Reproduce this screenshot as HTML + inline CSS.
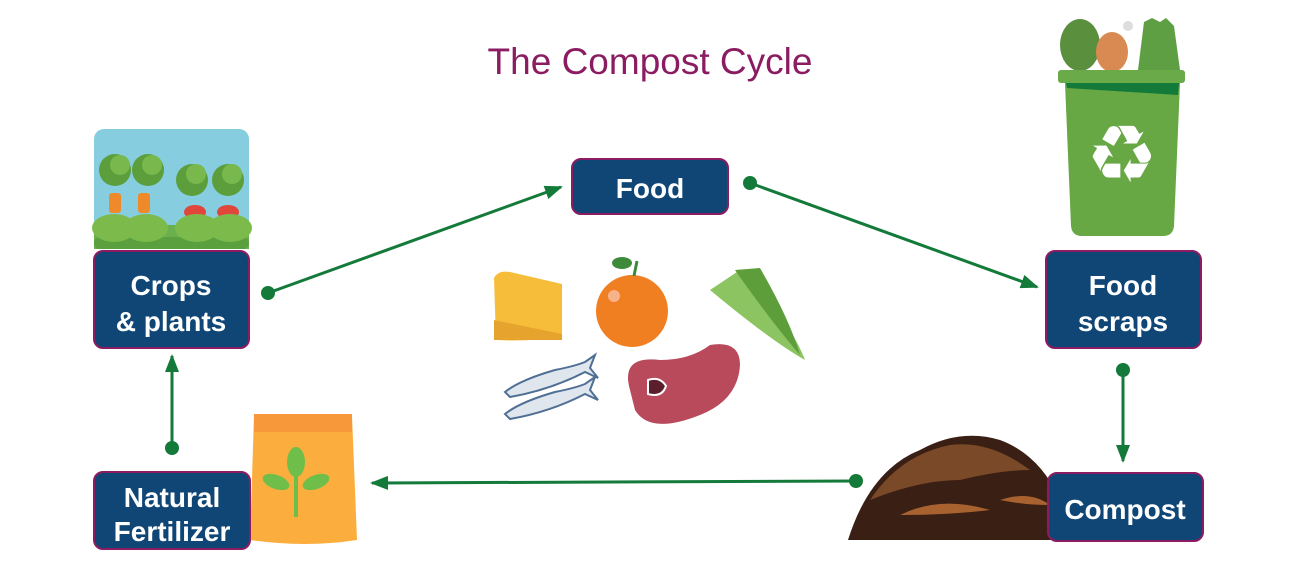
<!DOCTYPE html>
<html><head><meta charset="utf-8"><style>
html,body{margin:0;padding:0;background:#fff;width:1300px;height:581px;overflow:hidden}
svg{display:block}
.t{font-family:"Liberation Sans",sans-serif;font-weight:bold;fill:#fff;text-anchor:middle}
</style></head><body>
<svg width="1300" height="581" viewBox="0 0 1300 581">
<defs>
<marker id="ah" markerWidth="18" markerHeight="14" refX="16" refY="7" orient="auto" markerUnits="userSpaceOnUse"><path d="M0,0 L18,7 L0,14 z" fill="#137a3a"/></marker>
</defs>
<text x="650" y="74" font-family="Liberation Sans,sans-serif" font-size="37" fill="#8c1c62" text-anchor="middle">The Compost Cycle</text>

<!-- crops image -->
<rect x="94" y="129" width="155" height="120" rx="10" fill="#86cde0"/>
<rect x="94" y="225" width="155" height="24" fill="#6ab04c"/>
<rect x="94" y="237" width="155" height="12" rx="6" fill="#5aa03f"/>
<g fill="#5c9e3c">
<circle cx="115" cy="170" r="16"/><circle cx="148" cy="170" r="16"/><circle cx="192" cy="180" r="16"/><circle cx="228" cy="180" r="16"/></g>
<g fill="#78b84d"><circle cx="120" cy="165" r="10"/><circle cx="152" cy="165" r="10"/><circle cx="196" cy="174" r="10"/><circle cx="232" cy="174" r="10"/></g>
<rect x="109" y="193" width="12" height="20" rx="3" fill="#ef8a2a"/><rect x="138" y="193" width="12" height="20" rx="3" fill="#ef8a2a"/>
<ellipse cx="195" cy="212" rx="11" ry="7" fill="#e0473a"/><ellipse cx="228" cy="212" rx="11" ry="7" fill="#e0473a"/>
<g fill="#7cbb4b"><ellipse cx="114" cy="228" rx="22" ry="14"/><ellipse cx="146" cy="228" rx="22" ry="14"/><ellipse cx="197" cy="228" rx="22" ry="14"/><ellipse cx="230" cy="228" rx="22" ry="14"/></g>

<!-- bin -->
<g>
<ellipse cx="1080" cy="45" rx="20" ry="26" fill="#5a8f3e"/>
<ellipse cx="1112" cy="52" rx="16" ry="20" fill="#d98a52"/>
<circle cx="1128" cy="26" r="5" fill="#ddd"/>
<path d="M1138,70 l6,-48 l8,-4 l8,4 l6,-4 l8,8 l6,44z" fill="#5f9f44"/>
<rect x="1058" y="70" width="127" height="13" rx="3" fill="#6aaa48"/>
<path d="M1065,83 H1180 L1174,226 q-1,10 -11,10 H1082 q-10,0 -11,-10 z" fill="#67a744"/>
<path d="M1066,83 H1179 L1178,95 L1067,88z" fill="#137a3a"/>
<text x="1122" y="182" font-size="80" fill="#fff" text-anchor="middle" font-family="DejaVu Sans,sans-serif">♻</text>
</g>

<!-- compost heap -->
<path d="M848,540 Q870,470 920,450 Q960,428 1000,440 Q1040,455 1060,500 L1060,540z" fill="#3a1f14"/>
<path d="M870,500 Q900,455 950,445 Q990,440 1030,470 Q1000,470 960,480 Q920,480 870,500z" fill="#7a4a28"/>
<path d="M900,515 q40,-20 90,-5 q-40,5 -90,5z" fill="#a8622f"/>
<path d="M1000,500 q30,-10 50,5 q-25,0 -50,-5z" fill="#a8622f"/>

<!-- fertilizer bag -->
<path d="M254,416 H352 L357,540 Q305,548 250,540 Z" fill="#fbae3d"/>
<rect x="254" y="414" width="98" height="18" fill="#f7993a"/>
<line x1="296" y1="517" x2="296" y2="455" stroke="#6fbe4a" stroke-width="4"/>
<ellipse cx="296" cy="462" rx="9" ry="15" fill="#6fbe4a"/>
<ellipse cx="276" cy="482" rx="14" ry="7" fill="#6fbe4a" transform="rotate(20 276 482)"/>
<ellipse cx="316" cy="482" rx="14" ry="7" fill="#6fbe4a" transform="rotate(-20 316 482)"/>

<!-- central food -->
<path d="M494,278 Q498,270 510,272 L562,284 V336 Q530,342 496,340 Z" fill="#f6bd3a"/>
<path d="M494,320 V340 H562 V334z" fill="#e6a42e"/>
<circle cx="632" cy="311" r="36" fill="#f07f22"/>
<circle cx="614" cy="296" r="6" fill="#f7b48a"/>
<path d="M634,276 l3,-15" stroke="#3d8b3a" stroke-width="3"/>
<ellipse cx="622" cy="263" rx="10" ry="6" fill="#3d8b3a"/>
<path d="M630,390 Q620,355 660,360 Q690,360 710,345 Q740,340 740,365 Q738,400 700,415 Q650,435 635,410 Z" fill="#b84a5c"/>
<path d="M648,380 q12,-4 18,6 q-4,12 -18,8z" fill="#5a1f2a" stroke="#fff" stroke-width="2"/>
<path d="M710,290 L740,270 Q790,320 805,360 Q770,340 710,290z" fill="#8bc460"/>
<path d="M735,270 L760,268 Q790,320 800,355 Q770,320 735,270z" fill="#5d9e3b"/>
<g fill="#dfe6ee" stroke="#4f6f94" stroke-width="2">
<path d="M505,392 Q520,380 555,370 Q575,366 585,362 L595,355 L590,368 L598,378 L585,372 Q550,390 510,397z"/>
<path d="M505,414 Q520,402 555,392 Q575,388 585,384 L595,377 L590,390 L598,400 L585,394 Q550,412 510,419z"/>
</g>

<!-- connectors -->
<g stroke="#137a3a" stroke-width="3" fill="none">
<line x1="268" y1="293" x2="561" y2="187" marker-end="url(#ah)"/>
<line x1="750" y1="183" x2="1037" y2="287" marker-end="url(#ah)"/>
<line x1="1123" y1="370" x2="1123" y2="461" marker-end="url(#ah)"/>
<line x1="856" y1="481" x2="372" y2="483" marker-end="url(#ah)"/>
<line x1="172" y1="448" x2="172" y2="356" marker-end="url(#ah)"/>
</g>
<g fill="#137a3a"><circle cx="268" cy="293" r="7"/><circle cx="750" cy="183" r="7"/><circle cx="1123" cy="370" r="7"/><circle cx="856" cy="481" r="7"/><circle cx="172" cy="448" r="7"/></g>

<!-- boxes -->
<g fill="#0f4676" stroke="#8c1c62" stroke-width="2">
<rect x="572" y="159" width="156" height="55" rx="9"/>
<rect x="94" y="251" width="155" height="97" rx="9"/>
<rect x="1046" y="251" width="155" height="97" rx="9"/>
<rect x="1048" y="473" width="155" height="68" rx="9"/>
<rect x="94" y="472" width="156" height="77" rx="9"/>
</g>
<g class="t" font-size="28">
<text x="650" y="198">Food</text>
<text x="171" y="295">Crops</text><text x="171" y="331">&amp; plants</text>
<text x="1123" y="295">Food</text><text x="1123" y="331">scraps</text>
<text x="1125" y="519">Compost</text>
<text x="172" y="507">Natural</text><text x="172" y="541">Fertilizer</text>
</g>
</svg>
</body></html>
